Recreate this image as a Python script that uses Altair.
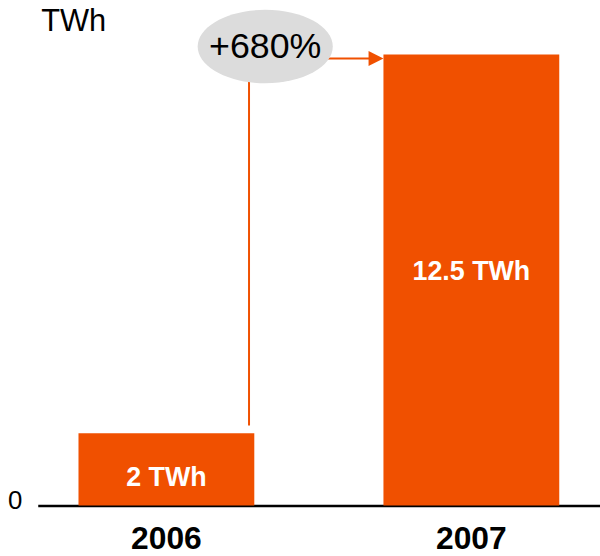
import altair as alt
import pandas as pd

years = ["2006", "2007"]
values = [2.0, 12.5]
bar_labels = ["2 TWh", "12.5 TWh"]
growth_label = "+680%"
unit_label = "TWh"

ORANGE = "#F05000"
GREY = "#DCDCDC"
FONT = "Liberation Sans"

bars_df = pd.DataFrame({"year": years, "value": values, "label": bar_labels})
annot_df = pd.DataFrame({
    "from_year": [years[0]], "to_year": [years[1]],
    "from_value": [values[0]], "to_value": [values[1]],
    "label": [growth_label],
})

x_scale = alt.Scale(domain=years, paddingInner=0.4235, paddingOuter=0.1336)
y_scale = alt.Scale(domain=[0, max(values)], nice=False, zero=True)

x_enc = alt.X(
    "year:N", scale=x_scale, title=None,
    axis=alt.Axis(labelAngle=0, labelFontSize=32, labelFontWeight="bold",
                  labelColor="black", labelPadding=18, ticks=False,
                  domain=True, domainColor="black", domainWidth=2.5,
                  labelFont=FONT),
)
y_enc = alt.Y(
    "value:Q", scale=y_scale,
    axis=alt.Axis(values=[0], grid=False, ticks=False, domain=False,
                  labelFontSize=26, labelColor="black", labelPadding=16,
                  labelOffset=-5, labelFont=FONT,
                  title=unit_label, titleAngle=0, titleAlign="left",
                  titleBaseline="middle", titleX=3, titleY=-33,
                  titleFontSize=31, titleFontWeight="normal",
                  titleColor="black", titleFont=FONT),
)

bars = alt.Chart(bars_df).mark_bar(color=ORANGE).encode(x=x_enc, y=y_enc)

label_base = alt.Chart(bars_df).transform_calculate(mid="datum.value / 2")
label_style = dict(color="white", fontSize=27, fontWeight="bold", font=FONT,
                   align="center", baseline="middle")
label_a = label_base.transform_filter(alt.datum.year == years[0]).mark_text(
    dy=9, **label_style).encode(
    x=alt.X("year:N", scale=x_scale), y=alt.Y("mid:Q", scale=y_scale), text="label:N")
label_b = label_base.transform_filter(alt.datum.year == years[1]).mark_text(
    dy=-8, **label_style).encode(
    x=alt.X("year:N", scale=x_scale), y=alt.Y("mid:Q", scale=y_scale), text="label:N")

annot = alt.Chart(annot_df)

connector = annot.mark_rule(color=ORANGE, strokeWidth=2, yOffset=-8, y2Offset=27).encode(
    x=alt.X("from_year:N", scale=x_scale, bandPosition=0.97),
    y=alt.Y("from_value:Q", scale=y_scale),
    y2="to_value:Q",
)

arrow_shaft = annot.mark_rule(color=ORANGE, strokeWidth=2, xOffset=-56,
                              x2Offset=-10, yOffset=4, y2Offset=4).encode(
    x=alt.X("to_year:N", scale=x_scale, bandPosition=0),
    x2=alt.X2("to_year:N", bandPosition=0),
    y=alt.Y("to_value:Q", scale=y_scale),
)

arrow_head = annot.mark_point(shape="M-1,-1L1,0L-1,1Z", filled=True, color=ORANGE,
                              opacity=1, size=225, xOffset=-7.5, yOffset=4,
                              strokeWidth=0).encode(
    x=alt.X("to_year:N", scale=x_scale, bandPosition=0),
    y=alt.Y("to_value:Q", scale=y_scale),
)

ellipse = annot.mark_point(
    shape="M-1,0A1,0.544 0 1,0 1,0A1,0.544 0 1,0 -1,0Z",
    filled=True, color=GREY, opacity=1, size=18496, strokeWidth=0,
    xOffset=11, yOffset=-8,
).encode(
    x=alt.X("from_year:N", scale=x_scale, bandPosition=1),
    y=alt.Y("to_value:Q", scale=y_scale),
)

growth_text = annot.mark_text(
    fontSize=36, color="black", font=FONT, align="center", baseline="middle",
    xOffset=11, yOffset=-7,
).encode(
    x=alt.X("from_year:N", scale=x_scale, bandPosition=1),
    y=alt.Y("to_value:Q", scale=y_scale),
    text="label:N",
)

chart = alt.layer(
    bars, connector, arrow_shaft, arrow_head, ellipse, growth_text, label_a, label_b
).properties(
    width=566, height=454,
    autosize=alt.AutoSizeParams(type="none"),
    padding={"left": 38, "top": 53, "right": 0, "bottom": 49},
    background="white",
).configure(
    font=FONT,
    view=alt.ViewConfig(stroke="transparent", strokeWidth=0),
)

chart.save("out.html", embed_options={"renderer": "svg", "actions": False})
